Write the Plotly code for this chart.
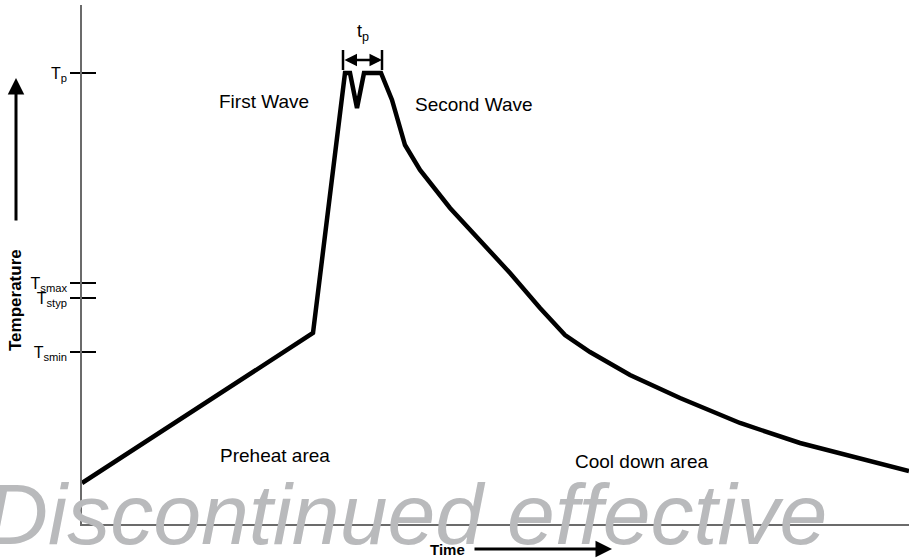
import plotly.graph_objects as go

# reflow profile (time and temperature in arbitrary units)
time = [0, 231, 263, 268, 275, 282, 299, 310, 323, 338, 368, 398, 428,
        458, 483, 508, 548, 598, 658, 718, 778, 827]
temp = [41, 191, 451, 451, 416, 451, 451, 424, 379, 354, 316, 284, 251,
        216, 189, 172, 149, 126, 101, 81, 65, 53]

tick_vals = [451, 241, 226, 172]
tick_text = ["T<sub>p</sub>", "T<sub>smax</sub>", "T<sub>styp</sub>", "T<sub>smin</sub>"]

tp_start, tp_end, tp_level = 261, 300, 464
tp_bar = [454, 474]

labels = ["First Wave", "Second Wave", "Preheat area", "Cool down area"]
label_x = [182, 392, 193, 560]
label_y = [422, 419, 69, 63]

W, H = 909, 560
X_MAX, Y_MAX = 827, 519
font = "Liberation Sans, Arial, sans-serif"

fig = go.Figure()

fig.add_trace(go.Scatter(x=time, y=temp, mode="lines",
                         line=dict(color="black", width=4.5),
                         hoverinfo="skip", showlegend=False))

# t_p bracket bars
fig.add_trace(go.Scatter(x=[tp_start, tp_start, None, tp_end, tp_end],
                         y=[tp_bar[0], tp_bar[1], None, tp_bar[0], tp_bar[1]],
                         mode="lines", line=dict(color="black", width=2.5),
                         hoverinfo="skip", showlegend=False))

# invisible traces so the helper axes exist
fig.add_trace(go.Scatter(x=[None], y=[None], yaxis="y2", showlegend=False))
fig.add_trace(go.Scatter(x=[None], y=[None], xaxis="x2", yaxis="y3", showlegend=False))

for txt, lx, ly in zip(labels, label_x, label_y):
    fig.add_annotation(x=lx, y=ly, text=txt, showarrow=False,
                       font=dict(family=font, size=19, color="black"))

# t_p label and double arrow
fig.add_annotation(x=(tp_start + tp_end) / 2, y=491, text="t<sub>p</sub>",
                   showarrow=False, font=dict(family=font, size=18, color="black"))
fig.add_annotation(x=tp_end, y=tp_level, ax=tp_start, ay=tp_level,
                   xref="x", yref="y", axref="x", ayref="y", text="",
                   showarrow=True, arrowside="end+start", arrowhead=2,
                   arrowsize=1, arrowwidth=2.5, arrowcolor="black")

# labels outside the plot area, placed on a full-page helper axis pair
fig.add_annotation(x=15, y=300, xref="x2", yref="y3", text="<b>Temperature</b>",
                   textangle=-90, showarrow=False,
                   font=dict(family=font, size=17, color="black"))
fig.add_annotation(x=16, y=78, xref="x2", yref="y3", ax=16, ay=222,
                   axref="x2", ayref="y3", text="", showarrow=True, arrowhead=2,
                   arrowsize=1.1, arrowwidth=3, arrowcolor="black")

fig.add_annotation(x=447, y=549, xref="x2", yref="y3", text="<b>Time</b>",
                   showarrow=False, font=dict(family=font, size=15, color="black"))
fig.add_annotation(x=612, y=549, xref="x2", yref="y3", ax=473, ay=549,
                   axref="x2", ayref="y3", text="", showarrow=True, arrowhead=2,
                   arrowsize=1.1, arrowwidth=3, arrowcolor="black")

# watermark
fig.add_annotation(x=406, y=514, xref="x2", yref="y3",
                   text="<i>Discontinued effective</i>", showarrow=False,
                   font=dict(family=font, size=86, color="#b9babc"))

fig.update_layout(
    width=W, height=H,
    margin=dict(l=0, r=0, t=0, b=0, autoexpand=False),
    plot_bgcolor="rgba(0,0,0,0)", paper_bgcolor="white",
    xaxis=dict(domain=[82 / W, 1], range=[0, X_MAX], showline=True,
               linecolor="#6b6b6b", linewidth=1.5, showgrid=False,
               zeroline=False, showticklabels=False, ticks="", automargin=False),
    yaxis=dict(domain=[36 / H, 555 / H], range=[0, Y_MAX], showline=True,
               linecolor="#6b6b6b", linewidth=1.5, showgrid=False,
               zeroline=False, automargin=False,
               tickvals=tick_vals, ticktext=tick_text, ticks="outside",
               ticklen=10, tickwidth=1.5, tickcolor="black",
               tickfont=dict(family=font, size=16, color="black")),
    yaxis2=dict(range=[0, Y_MAX], overlaying="y", side="left", showline=False,
                showgrid=False, zeroline=False, tickvals=tick_vals,
                ticks="inside", ticklen=14, tickwidth=1.5, tickcolor="black",
                showticklabels=False, automargin=False),
    xaxis2=dict(domain=[0, 1], range=[0, W], visible=False, anchor="y3"),
    yaxis3=dict(domain=[0, 1], range=[H, 0], visible=False, anchor="x2"),
)

fig.write_html("out.html", config={"displayModeBar": False},
               post_script="document.body.style.margin='0';")
